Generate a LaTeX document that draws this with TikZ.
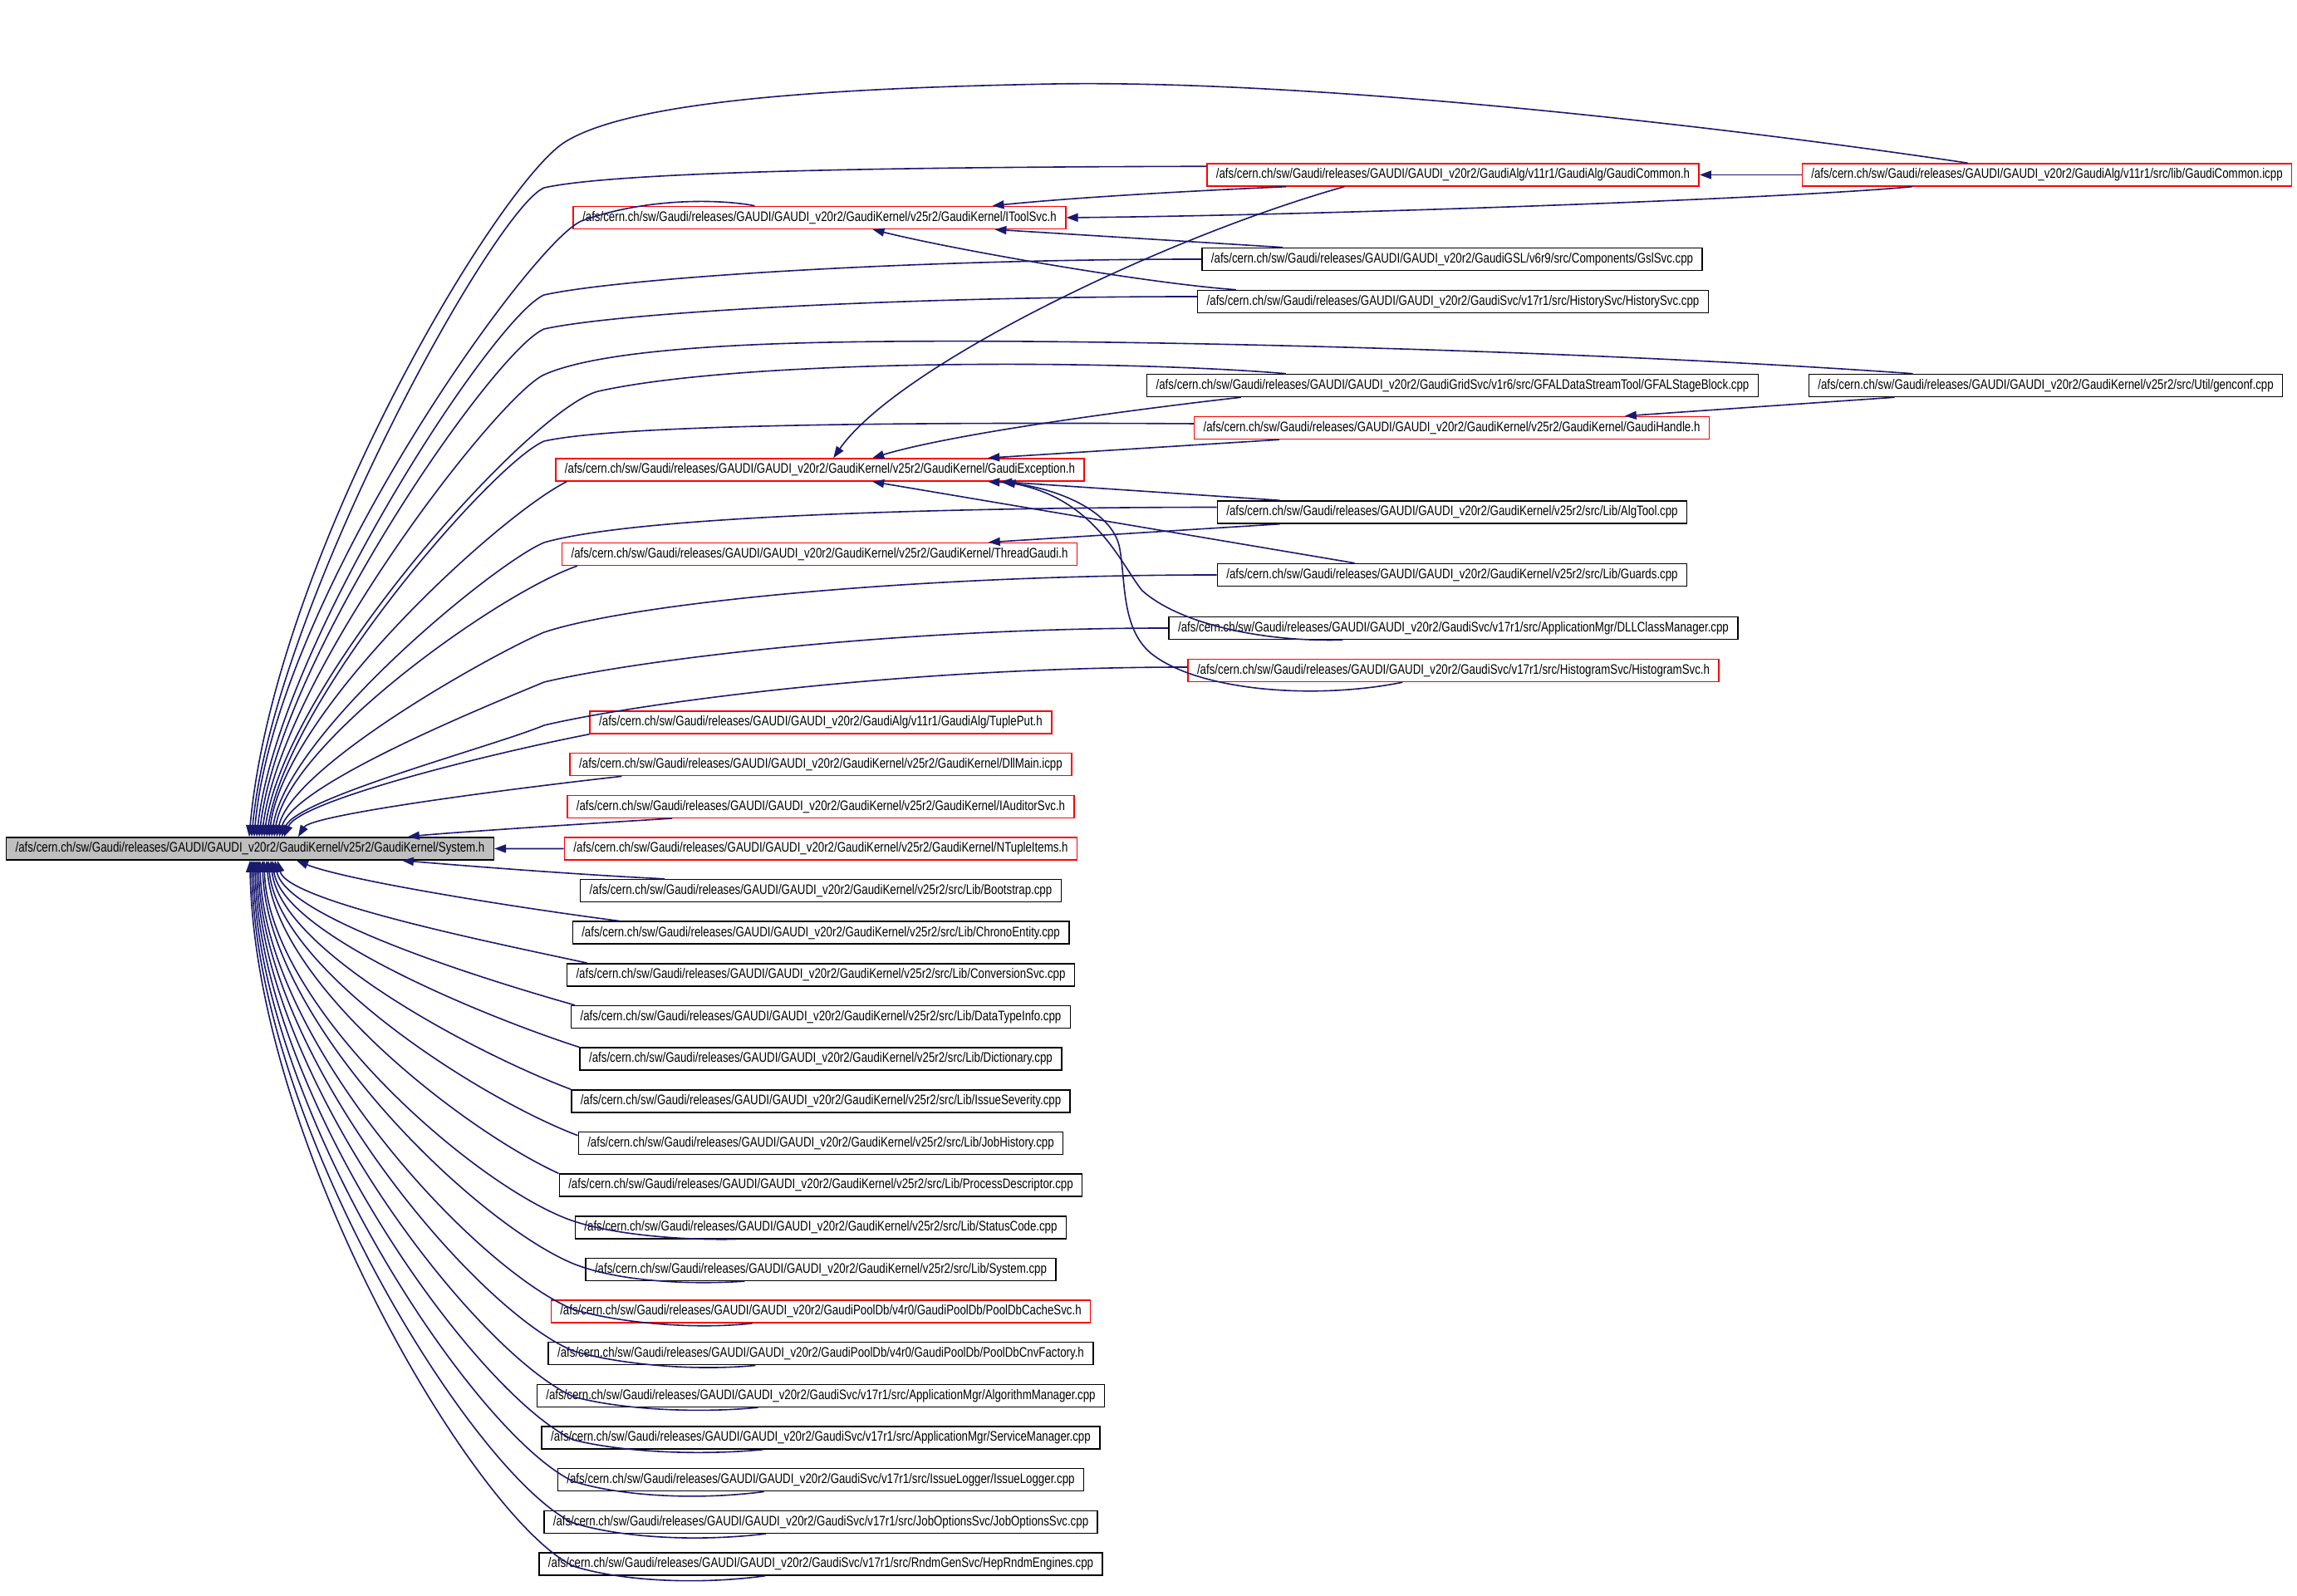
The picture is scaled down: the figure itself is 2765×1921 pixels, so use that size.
\documentclass[tikz,border=0pt]{standalone}
\usepackage{fontspec}
\usepackage{tikz}
\usetikzlibrary{positioning,arrows.meta}
\newfontfamily\dfont[FakeStretch=0.8]{Liberation Sans}
\definecolor{edgec}{RGB}{25,25,112}
\definecolor{sysc}{RGB}{191,191,191}
\newcommand{\groot}{/afs/cern.ch/sw/Gaudi/releases/GAUDI/GAUDI\_v20r2/}
\tikzset{
  file/.style={draw=black, line width=1.5pt, minimum height=27pt, inner xsep=11pt, inner ysep=0pt, font=\dfont\fontsize{16.6}{20}\selectfont},
  redfile/.style={file, draw=red},
  cur/.style={file, fill=sysc},
  inc/.style={draw=edgec, line width=1.6pt, -{Triangle[length=14pt,width=10pt]}}
}
\begin{document}
\begin{tikzpicture}[x=1pt, y=1pt, node distance=22.15pt]
  \useasboundingbox (0,0) rectangle (2765,1921);
  \node[cur] (sys) at (301,899.5) {\groot GaudiKernel/v25r2/GaudiKernel/System.h};

  \node[redfile] (gch) at (1749,1710.5) {\groot GaudiAlg/v11r1/GaudiAlg/GaudiCommon.h};
  \node[redfile] (gcicpp) at (2464,1710.5) {\groot GaudiAlg/v11r1/src/lib/GaudiCommon.icpp};
  \node[redfile] (itool) at (986.5,1659) {\groot GaudiKernel/v25r2/GaudiKernel/IToolSvc.h};
  \node[file] (gsl) at (1748,1609) {\groot GaudiGSL/v6r9/src/Components/GslSvc.cpp};
  \node[file] (hist) at (1749,1558) {\groot GaudiSvc/v17r1/src/HistorySvc/HistorySvc.cpp};
  \node[file] (gfal) at (1748.5,1457) {\groot GaudiGridSvc/v1r6/src/GFALDataStreamTool/GFALStageBlock.cpp};
  \node[file] (genconf) at (2462.5,1457) {\groot GaudiKernel/v25r2/src/Util/genconf.cpp};
  \node[redfile] (ghandle) at (1747.5,1406) {\groot GaudiKernel/v25r2/GaudiKernel/GaudiHandle.h};
  \node[redfile] (gexc) at (987,1355.5) {\groot GaudiKernel/v25r2/GaudiKernel/GaudiException.h};
  \node[file] (algtool) at (1748,1304.5) {\groot GaudiKernel/v25r2/src/Lib/AlgTool.cpp};
  \node[redfile] (thread) at (986.5,1254) {\groot GaudiKernel/v25r2/GaudiKernel/ThreadGaudi.h};
  \node[file] (guards) at (1748,1229) {\groot GaudiKernel/v25r2/src/Lib/Guards.cpp};
  \node[file] (dll) at (1749.5,1165) {\groot GaudiSvc/v17r1/src/ApplicationMgr/DLLClassManager.cpp};
  \node[redfile] (histsvc) at (1749.5,1114) {\groot GaudiSvc/v17r1/src/HistogramSvc/HistogramSvc.h};

  \node[redfile] (tuple) at (988,1051.5) {\groot GaudiAlg/v11r1/GaudiAlg/TuplePut.h};
  \node[redfile, below=of tuple] (dllmain) {\groot GaudiKernel/v25r2/GaudiKernel/DllMain.icpp};
  \node[redfile, below=of dllmain] (iaud) {\groot GaudiKernel/v25r2/GaudiKernel/IAuditorSvc.h};
  \node[redfile, below=of iaud] (ntuple) {\groot GaudiKernel/v25r2/GaudiKernel/NTupleItems.h};
  \node[file, below=of ntuple] (boot) {\groot GaudiKernel/v25r2/src/Lib/Bootstrap.cpp};
  \node[file, below=of boot] (chrono) {\groot GaudiKernel/v25r2/src/Lib/ChronoEntity.cpp};
  \node[file, below=of chrono] (conv) {\groot GaudiKernel/v25r2/src/Lib/ConversionSvc.cpp};
  \node[file, below=of conv] (dtype) {\groot GaudiKernel/v25r2/src/Lib/DataTypeInfo.cpp};
  \node[file, below=of dtype] (dict) {\groot GaudiKernel/v25r2/src/Lib/Dictionary.cpp};
  \node[file, below=of dict] (issev) {\groot GaudiKernel/v25r2/src/Lib/IssueSeverity.cpp};
  \node[file, below=of issev] (jobh) {\groot GaudiKernel/v25r2/src/Lib/JobHistory.cpp};
  \node[file, below=of jobh] (procd) {\groot GaudiKernel/v25r2/src/Lib/ProcessDescriptor.cpp};
  \node[file, below=of procd] (scode) {\groot GaudiKernel/v25r2/src/Lib/StatusCode.cpp};
  \node[file, below=of scode] (syscpp) {\groot GaudiKernel/v25r2/src/Lib/System.cpp};
  \node[redfile, below=of syscpp] (pcache) {\groot GaudiPoolDb/v4r0/GaudiPoolDb/PoolDbCacheSvc.h};
  \node[file, below=of pcache] (pcnv) {\groot GaudiPoolDb/v4r0/GaudiPoolDb/PoolDbCnvFactory.h};
  \node[file, below=of pcnv] (algm) {\groot GaudiSvc/v17r1/src/ApplicationMgr/AlgorithmManager.cpp};
  \node[file, below=of algm] (svcm) {\groot GaudiSvc/v17r1/src/ApplicationMgr/ServiceManager.cpp};
  \node[file, below=of svcm] (ilog) {\groot GaudiSvc/v17r1/src/IssueLogger/IssueLogger.cpp};
  \node[file, below=of ilog] (jobo) {\groot GaudiSvc/v17r1/src/JobOptionsSvc/JobOptionsSvc.cpp};
  \node[file, below=of jobo] (rndm) {\groot GaudiSvc/v17r1/src/RndmGenSvc/HepRndmEngines.cpp};

  % includers of System.h, arriving from above
  \draw[inc] ([xshift=200pt]gcicpp.north west) .. controls (2100,1765) and (1600,1825) .. (1270,1820) .. controls (1000,1815) and (760,1800) .. (680,1750) .. controls (600,1700) and (330,1250) .. ([xshift=293pt]sys.north west);
  \draw[inc] ([yshift=-4pt]gch.north west) .. controls (1093,1720) and (745,1715) .. (655,1695) .. controls (595,1670) and (328,1187) .. ([xshift=296pt]sys.north west);
  \draw[inc] ([xshift=219pt]itool.north west) .. controls (870,1681) and (780,1684) .. (700,1655) .. controls (640,1630) and (331,1200) .. ([xshift=299pt]sys.north west);
  \draw[inc] (gsl.west) .. controls (1089,1609) and (745,1586) .. (655,1566) .. controls (595,1541) and (334,1142) .. ([xshift=302pt]sys.north west);
  \draw[inc] ([yshift=6pt]hist.west) .. controls (1085,1564) and (745,1545) .. (655,1525) .. controls (595,1500) and (337,1127) .. ([xshift=305pt]sys.north west);
  \draw[inc] ([xshift=126pt]genconf.north west) .. controls (1900,1500) and (1300,1515) .. (1000,1509) .. controls (800,1505) and (700,1490) .. (655,1470) .. controls (600,1445) and (340,1110) .. ([xshift=308pt]sys.north west);
  \draw[inc] ([xshift=168pt]gfal.north west) .. controls (1350,1488) and (900,1490) .. (720,1450) .. controls (640,1430) and (343,1100) .. ([xshift=311pt]sys.north west);
  \draw[inc] ([yshift=5pt]ghandle.west) .. controls (1085,1413) and (745,1410) .. (655,1390) .. controls (595,1365) and (346,1080) .. ([xshift=314pt]sys.north west);
  \draw[inc] ([xshift=14pt]gexc.south west) .. controls (600,1300) and (342,1063) .. ([xshift=317pt]sys.north west);
  \draw[inc] ([yshift=6pt]algtool.west) .. controls (1100,1310) and (760,1298) .. (655,1268) .. controls (595,1243) and (345,1037) .. ([xshift=320pt]sys.north west);
  \draw[inc] ([xshift=19pt]thread.south west) .. controls (600,1207) and (348,1027) .. ([xshift=323pt]sys.north west);
  \draw[inc] (guards.west) .. controls (1100,1229) and (760,1195) .. (655,1160) .. controls (595,1135) and (351,999) .. ([xshift=326pt]sys.north west);
  \draw[inc] (dll.west) .. controls (1068,1165) and (760,1125) .. (655,1100) .. controls (595,1075) and (354,978) .. ([xshift=329pt]sys.north west);
  \draw[inc] ([yshift=4pt]histsvc.west) .. controls (1081,1118) and (760,1073) .. (655,1048) .. controls (595,1023) and (357,960) .. ([xshift=332pt]sys.north west);
  \draw[inc] (tuple.south west) .. controls (590,1014) and (360,957) .. ([xshift=335pt]sys.north west);
  \draw[inc] ([xshift=63pt]dllmain.south west) .. controls (600,970) and (375,940) .. ([xshift=352pt]sys.north west);
  \draw[inc] ([xshift=127pt]iaud.south west) .. controls (680,928) and (530,918) .. ([xshift=484pt]sys.north west);
  \draw[inc] (ntuple) -- (sys);

  % includers of System.h, arriving from below
  \draw[inc] ([xshift=102pt]boot.north west) .. controls (700,868) and (570,878) .. ([xshift=477pt]sys.south west);
  \draw[inc] ([xshift=57pt]chrono.north west) .. controls (640,826) and (420,860) .. ([xshift=350pt]sys.south west);
  \draw[inc] ([xshift=25pt]conv.north west) .. controls (600,785) and (346,836) .. ([xshift=327pt]sys.south west);
  \draw[inc] ([xshift=5pt]dtype.north west) .. controls (590,740) and (343,816) .. ([xshift=324pt]sys.south west);
  \draw[inc] (dict.north west) .. controls (590,695) and (340,796) .. ([xshift=321pt]sys.south west);
  \draw[inc] (issev.north west) .. controls (580,650) and (338,775) .. ([xshift=319pt]sys.south west);
  \draw[inc] ([yshift=-5pt]jobh.north west) .. controls (575,600) and (335,755) .. ([xshift=316pt]sys.south west);
  \draw[inc] (procd.north west) .. controls (560,560) and (333,735) .. ([xshift=314pt]sys.south west);
  \draw[inc] ([xshift=194pt]scode.south west) .. controls (820,428) and (730,435) .. (680,455) .. controls (560,503) and (323,714) .. ([xshift=311pt]sys.south west);
  \draw[inc] ([xshift=192pt]syscpp.south west) .. controls (820,374) and (740,380) .. (690,400) .. controls (570,450) and (321,692) .. ([xshift=309pt]sys.south west);
  \draw[inc] ([xshift=243pt]pcache.south west) .. controls (830,320) and (740,330) .. (690,345) .. controls (570,395) and (318,670) .. ([xshift=306pt]sys.south west);
  \draw[inc] ([xshift=250pt]pcnv.south west) .. controls (830,270) and (740,280) .. (690,295) .. controls (570,345) and (316,650) .. ([xshift=304pt]sys.south west);
  \draw[inc] ([xshift=267pt]algm.south west) .. controls (830,219) and (740,226) .. (690,240) .. controls (570,295) and (314,628) .. ([xshift=302pt]sys.south west);
  \draw[inc] ([xshift=267pt]svcm.south west) .. controls (830,168) and (740,175) .. (690,188) .. controls (570,245) and (312,607) .. ([xshift=300pt]sys.south west);
  \draw[inc] ([xshift=249pt]ilog.south west) .. controls (830,114) and (740,122) .. (690,138) .. controls (570,195) and (310,587) .. ([xshift=298pt]sys.south west);
  \draw[inc] ([xshift=268pt]jobo.south west) .. controls (830,64) and (740,72) .. (690,88) .. controls (570,145) and (308,567) .. ([xshift=296pt]sys.south west);
  \draw[inc] ([xshift=273pt]rndm.south west) .. controls (830,12) and (740,20) .. (690,36) .. controls (570,95) and (306,546) .. ([xshift=294pt]sys.south west);

  % the other includes
  \draw[inc] (gcicpp) -- (gch);
  \draw[inc] ([xshift=133pt]gcicpp.south west) .. controls (2150,1682) and (1600,1662) .. (itool.east);
  \draw[inc] ([xshift=96pt]gch.south west) .. controls (1450,1692) and (1300,1684) .. ([xshift=505pt]itool.north west);
  \draw[inc] ([xshift=98pt]gsl.north west) -- ([xshift=508pt]itool.south west);
  \draw[inc] ([xshift=47pt]hist.north west) .. controls (1380,1580) and (1150,1620) .. ([xshift=361pt]itool.south west);
  \draw[inc] ([xshift=166pt]gch.south west) .. controls (1400,1635) and (1080,1480) .. ([xshift=335pt]gexc.north west);
  \draw[inc] ([xshift=114pt]gfal.south west) .. controls (1380,1430) and (1150,1400) .. ([xshift=382pt]gexc.north west);
  \draw[inc] ([xshift=103pt]ghandle.south west) -- ([xshift=521pt]gexc.north west);
  \draw[inc] ([xshift=104pt]genconf.south west) -- ([xshift=519pt]ghandle.north west);
  \draw[inc] ([xshift=76pt]algtool.north west) -- ([xshift=536pt]gexc.south west);
  \draw[inc] ([xshift=76pt]algtool.south west) -- ([xshift=514pt]thread.north west);
  \draw[inc] ([xshift=166pt]guards.north west) -- ([xshift=382pt]gexc.south west);
  \draw[inc] ([xshift=210pt]dll.south west) .. controls (1520,1148) and (1420,1170) .. (1375,1210) .. controls (1350,1240) and (1320,1320) .. ([xshift=540pt]gexc.south west);
  \draw[inc] ([xshift=259pt]histsvc.south west) .. controls (1580,1078) and (1440,1090) .. (1385,1135) .. controls (1350,1165) and (1355,1220) .. (1348,1260) .. controls (1340,1310) and (1260,1338) .. ([xshift=521pt]gexc.south west);
\end{tikzpicture}
\end{document}
